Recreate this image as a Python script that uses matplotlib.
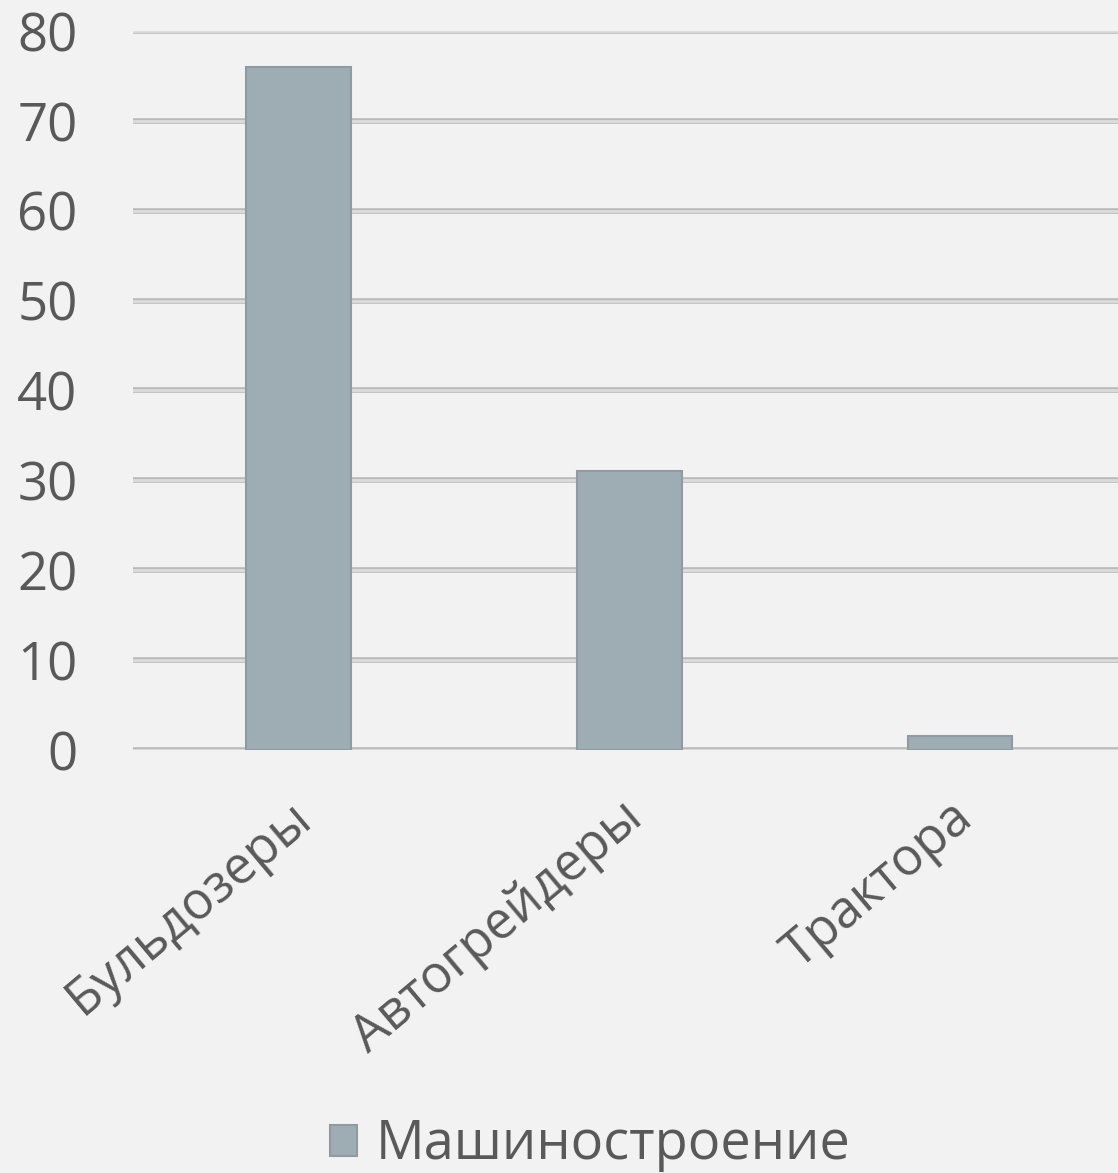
import matplotlib
matplotlib.use('Agg')
import matplotlib.pyplot as plt
import matplotlib.patheffects as pe
from matplotlib.transforms import ScaledTranslation

# data
categories = ['Бульдозеры', 'Автогрейдеры', 'Трактора']
values = [76, 31, 1.6]
series_name = 'Машиностроение'
y_ticks = [0, 10, 20, 30, 40, 50, 60, 70, 80]

plt.rcParams['font.family'] = ['Open Sans', 'DejaVu Sans']

bg = '#f2f2f2'
txt = '#595959'

fig = plt.figure(figsize=(11.18, 11.73), dpi=100, facecolor=bg)
ax = fig.add_axes([0.119, 0.3606, 0.888, 0.613], facecolor=bg)

x = list(range(len(categories)))
ax.bar(x, values, width=0.315, color='#9eadb3', edgecolor='#8f9ba0',
       linewidth=1.5, label=series_name, zorder=3)

ax.set_ylim(0, 80)
ax.set_xlim(-0.5, 2.5)
ax.set_yticks(y_ticks)
ax.set_yticklabels([str(t) for t in y_ticks])
ax.yaxis.grid(True, color='#dcdcdc', linewidth=2, zorder=0)
for gl in ax.get_ygridlines():
    gl.set_path_effects([pe.Stroke(linewidth=4, foreground='#b9b9b9'), pe.Normal()])
ax.set_axisbelow(True)
for s in ax.spines.values():
    s.set_visible(False)
ax.tick_params(axis='y', length=0, pad=40, labelsize=38, labelcolor=txt)
ax.tick_params(axis='x', length=0, pad=30, labelsize=37, labelcolor=txt)
ax.set_xticks(x)
ax.set_xticklabels(categories, rotation=40, ha='right', rotation_mode='anchor')
shift = ScaledTranslation(-0.10, 0, fig.dpi_scale_trans)
for lbl in ax.get_xticklabels():
    lbl.set_transform(lbl.get_transform() + shift)

leg = fig.legend(loc='center', bbox_to_anchor=(0.528, 0.024), frameon=False,
                 fontsize=39, handlelength=0.5, handleheight=0.5,
                 handletextpad=0.35, labelcolor=txt)

fig.savefig('out.png', dpi=100, facecolor=bg)
